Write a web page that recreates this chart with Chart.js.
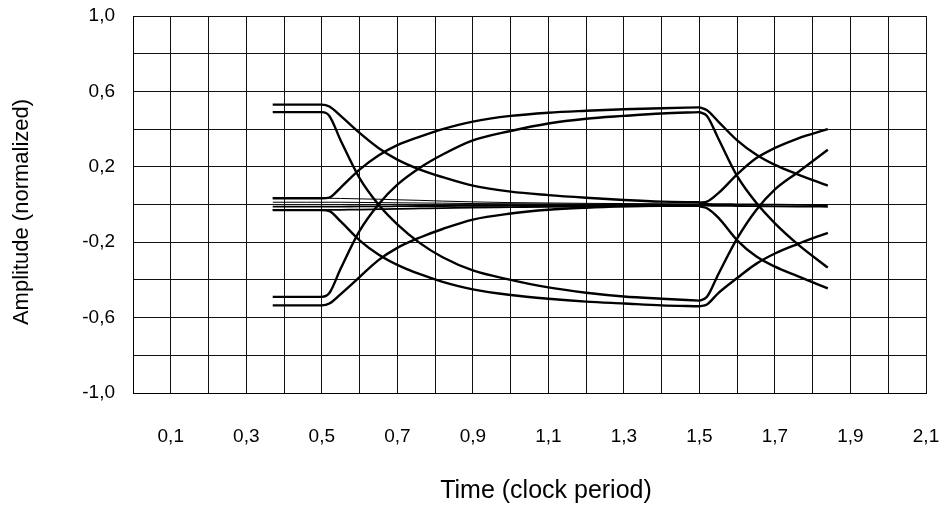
<!DOCTYPE html>
<html><head><meta charset="utf-8">
<script src="https://cdn.jsdelivr.net/npm/chart.js@4/dist/chart.umd.min.js"></script>
<style>html,body{margin:0;padding:0;background:#fff;}</style>
</head><body>
<canvas id="c" width="948" height="506"></canvas>
<script>
// Sample times (clock periods)
const XA = [0.37, 0.46, 0.50, 0.52, 0.55, 0.60, 0.65, 0.70, 0.76, 0.82, 0.90, 1.00, 1.10, 1.20, 1.30, 1.40, 1.50];
const XB = [1.50, 1.52, 1.55, 1.60, 1.65, 1.70, 1.76, 1.84];

// First bit interval traces
const highToZeroA = [0.53, 0.53, 0.53, 0.52, 0.47, 0.38, 0.30, 0.238, 0.185, 0.145, 0.10, 0.068, 0.05, 0.036, 0.024, 0.015, 0.012];
const highToLowA  = [0.49, 0.49, 0.49, 0.47, 0.34, 0.14, 0.00, -0.105, -0.205, -0.28, -0.35, -0.40, -0.44, -0.468, -0.488, -0.50, -0.51];
const zeroToHighA = [0.033, 0.033, 0.033, 0.037, 0.09, 0.185, 0.26, 0.315, 0.36, 0.40, 0.44, 0.47, 0.487, 0.497, 0.505, 0.511, 0.515];
const zeroToLowA  = [-0.03, -0.03, -0.03, -0.035, -0.09, -0.19, -0.265, -0.32, -0.37, -0.41, -0.45, -0.48, -0.50, -0.515, -0.525, -0.535, -0.54];
const lowToHighA  = [-0.49, -0.49, -0.49, -0.47, -0.34, -0.14, 0.00, 0.105, 0.195, 0.265, 0.34, 0.39, 0.43, 0.455, 0.47, 0.483, 0.49];
const lowToZeroA  = [-0.535, -0.535, -0.535, -0.525, -0.475, -0.385, -0.295, -0.23, -0.175, -0.13, -0.08, -0.048, -0.028, -0.017, -0.01, -0.006, -0.004];
const zeroA1 = [0.033, 0.033, 0.033, 0.033, 0.032, 0.030, 0.028, 0.025, 0.022, 0.018, 0.014, 0.010, 0.008, 0.006, 0.005, 0.004, 0.003];
const zeroA2 = [0.012, 0.012, 0.012, 0.012, 0.012, 0.011, 0.010, 0.009, 0.008, 0.007, 0.005, 0.004, 0.003, 0.002, 0.001, 0.001, 0.000];
const zeroA3 = [-0.011, -0.011, -0.011, -0.011, -0.011, -0.010, -0.010, -0.009, -0.008, -0.008, -0.007, -0.006, -0.006, -0.005, -0.005, -0.005, -0.005];
const zeroA4 = [-0.029, -0.029, -0.029, -0.029, -0.028, -0.027, -0.025, -0.023, -0.021, -0.019, -0.016, -0.014, -0.012, -0.011, -0.010, -0.009, -0.008];

// Second bit interval traces
const highToZeroB = [0.515, 0.50, 0.44, 0.34, 0.265, 0.21, 0.16, 0.10];
const highToLowB  = [0.49, 0.47, 0.35, 0.15, 0.01, -0.10, -0.21, -0.335];
const zeroToHighB = [0.01, 0.015, 0.06, 0.16, 0.245, 0.30, 0.35, 0.40];
const zeroToLowB  = [-0.01, -0.02, -0.07, -0.19, -0.275, -0.33, -0.38, -0.445];
const lowToHighB  = [-0.51, -0.49, -0.37, -0.18, -0.03, 0.08, 0.17, 0.29];
const lowToZeroB  = [-0.54, -0.53, -0.47, -0.39, -0.315, -0.26, -0.21, -0.15];
const zeroB1 = [0.003, 0.003, 0.002, 0.001, 0.000, -0.001, -0.002, -0.003];
const zeroB2 = [-0.006, -0.006, -0.007, -0.008, -0.009, -0.010, -0.011, -0.012];

const xTickValues = [0.1, 0.3, 0.5, 0.7, 0.9, 1.1, 1.3, 1.5, 1.7, 1.9, 2.1];
const yTickValues = [1.0, 0.6, 0.2, -0.2, -0.6, -1.0];

const traces = [
  [XA, highToZeroA, 2.4], [XA, highToLowA, 2.4], [XA, zeroToHighA, 2.4], [XA, zeroToLowA, 2.4],
  [XA, lowToHighA, 2.4], [XA, lowToZeroA, 2.4],
  [XA, zeroA1, 1], [XA, zeroA2, 1], [XA, zeroA3, 1.8], [XA, zeroA4, 1.8],
  [XB, highToZeroB, 2.4], [XB, highToLowB, 2.4], [XB, zeroToHighB, 2.4], [XB, zeroToLowB, 2.4],
  [XB, lowToHighB, 2.4], [XB, lowToZeroB, 2.4], [XB, zeroB1, 1.8], [XB, zeroB2, 1.8]
];

const fmt = v => v.toFixed(1).replace('.', ',');
const near = (v, arr) => arr.some(a => Math.abs(a - v) < 1e-6);
const FONT = '"Liberation Sans", Arial, sans-serif';

const titles = {
  id: 'titles',
  afterDraw(chart) {
    const c = chart.ctx;
    c.save();
    c.fillStyle = '#000';
    c.textAlign = 'center';
    c.textBaseline = 'middle';
    c.font = '25px ' + FONT;
    c.fillText('Time (clock period)', 546, 491);
    c.font = '22px ' + FONT;
    c.translate(22, 212);
    c.rotate(-Math.PI / 2);
    c.fillText('Amplitude (normalized)', 0, 0);
    c.restore();
  }
};

new Chart(document.getElementById('c'), {
  type: 'line',
  data: {
    datasets: traces.map(t => ({
      data: t[0].map((x, i) => ({ x: x, y: t[1][i] })),
      borderColor: '#000',
      borderWidth: t[2],
      pointRadius: 0,
      fill: false,
      cubicInterpolationMode: 'monotone'
    }))
  },
  options: {
    responsive: false,
    animation: false,
    devicePixelRatio: 1,
    layout: { padding: { top: 16, right: 22, left: 0, bottom: 0 } },
    plugins: { legend: { display: false }, tooltip: { enabled: false } },
    scales: {
      x: {
        type: 'linear', min: 0, max: 2.1,
        grid: { color: '#111', lineWidth: 1, drawTicks: false },
        border: { color: '#000', width: 1 },
        ticks: {
          stepSize: 0.1, autoSkip: false, maxRotation: 0, padding: 32, color: '#000',
          font: { family: FONT, size: 19 },
          callback: v => near(v, xTickValues) ? fmt(v) : ''
        },
        afterFit: s => { s.height = 113; s.paddingLeft = 0; s.paddingRight = 0; }
      },
      y: {
        type: 'linear', min: -1, max: 1,
        grid: { color: '#111', lineWidth: 1, drawTicks: false },
        border: { color: '#000', width: 1 },
        ticks: {
          stepSize: 0.2, autoSkip: false, padding: 18, color: '#000',
          font: { family: FONT, size: 19 },
          callback: v => near(v, yTickValues) ? fmt(v) : ''
        },
        afterFit: s => { s.width = 133; s.paddingTop = 0; s.paddingBottom = 0; }
      }
    }
  },
  plugins: [titles]
});
</script>
</body></html>
